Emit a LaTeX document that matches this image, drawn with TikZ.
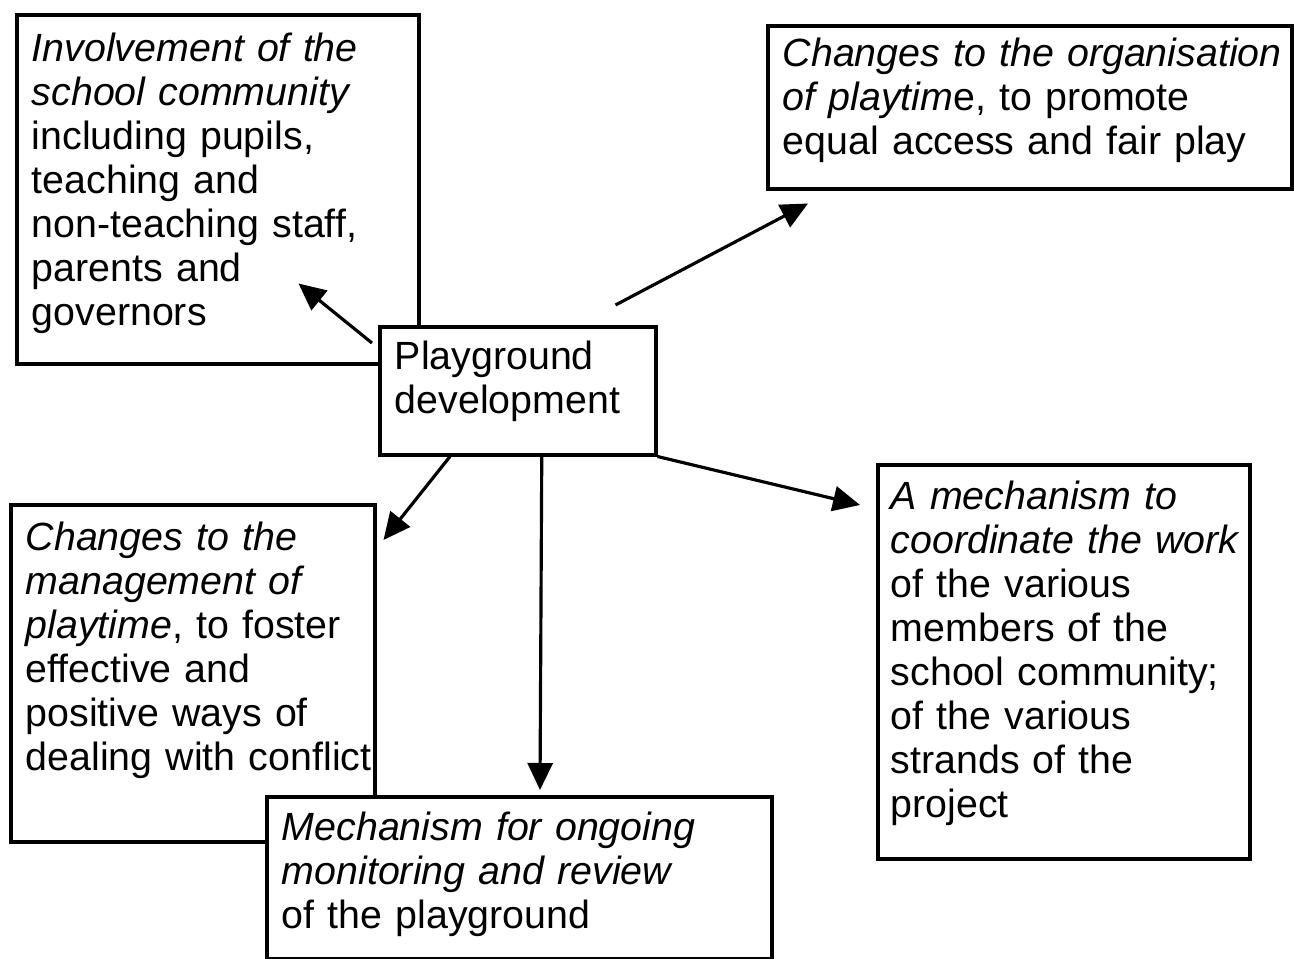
\documentclass[tikz,border=0pt]{standalone}
\usepackage{fontspec}
\setmainfont{Liberation Sans}
\usetikzlibrary{calc,arrows.meta}
\hfuzz=1cm

\begin{document}
\begin{tikzpicture}[
    box/.style={draw, line width=1pt, fill=white, anchor=north west, align=left,
      inner xsep=.15cm, inner ysep=0pt, font=\fontsize{11.2}{12.5}\selectfont},
    arr/.style={line width=.9pt, -{Triangle[length=.27cm,width=.25cm]}}]
  \fill[white] (0,0) rectangle (12.94,9.58);
  \useasboundingbox (0,0) rectangle (12.94,9.58);
  % outer boxes
  \node[box, text width=3.72cm, text height=.47cm, text depth=3.02cm] (inv) at (0.15,9.45)
    {\textit{Involvement of the}\\ \textit{school community}\\ including pupils,\\
     teaching and\\ \mbox{non-teaching staff,}\\ parents and\\ governors};
  \node[box, text width=4.94cm, text height=.41cm, text depth=1.22cm] (org) at (7.66,9.34)
    {\mbox{\textit{Changes to the organisation}}\\ \textit{of playtim}e, to promote\\
     \mbox{equal access and fair play}};
  \node[box, text width=3.34cm, text height=.46cm, text depth=2.91cm] (mgt) at (0.09,4.55)
    {\textit{Changes to the}\\ \textit{management of}\\ \textit{playtime}, to foster\\
     effective and\\ positive ways of\\ \mbox{dealing with conflict}};
  \node[box, text width=3.46cm, inner xsep=.13cm, text height=.45cm, text depth=3.49cm] (coord) at (8.76,4.95)
    {\textit{A mechanism to}\\ \mbox{\textit{coordinate the work}}\\ of the various\\ members of the\\
     \mbox{school community;}\\ of the various\\ strands of the\\ project};
  % centre
  \node[box, text width=2.46cm, text height=.43cm, text depth=.85cm] (pd) at (3.78,6.33)
    {Playground\\ development};
  \node[box, text width=4.75cm, text height=.44cm, text depth=1.18cm] (mon) at (2.65,1.63)
    {\textit{Mechanism for ongoing}\\ \textit{monitoring and review}\\ of the playground};
  % arrows
  \draw[arr] ($(pd.north west)+(-.06,-.18)$) -- ($(inv.south east)+(-1.22,.82)$);
  \draw[arr] ($(pd.north east)+(-.42,.20)$) -- ($(org.south west)+(.42,-.13)$);
  \draw[arr] ($(pd.south west)+(.72,0)$) -- ($(mgt.north east)+(.07,-.37)$);
  \draw[arr] ($(pd.south)+(.24,0)$) -- ($(mon.north west)+(2.75,.05)$);
  \draw[arr] (pd.south east) -- ($(coord.north west)+(-.16,-.42)$);
\end{tikzpicture}
\end{document}
